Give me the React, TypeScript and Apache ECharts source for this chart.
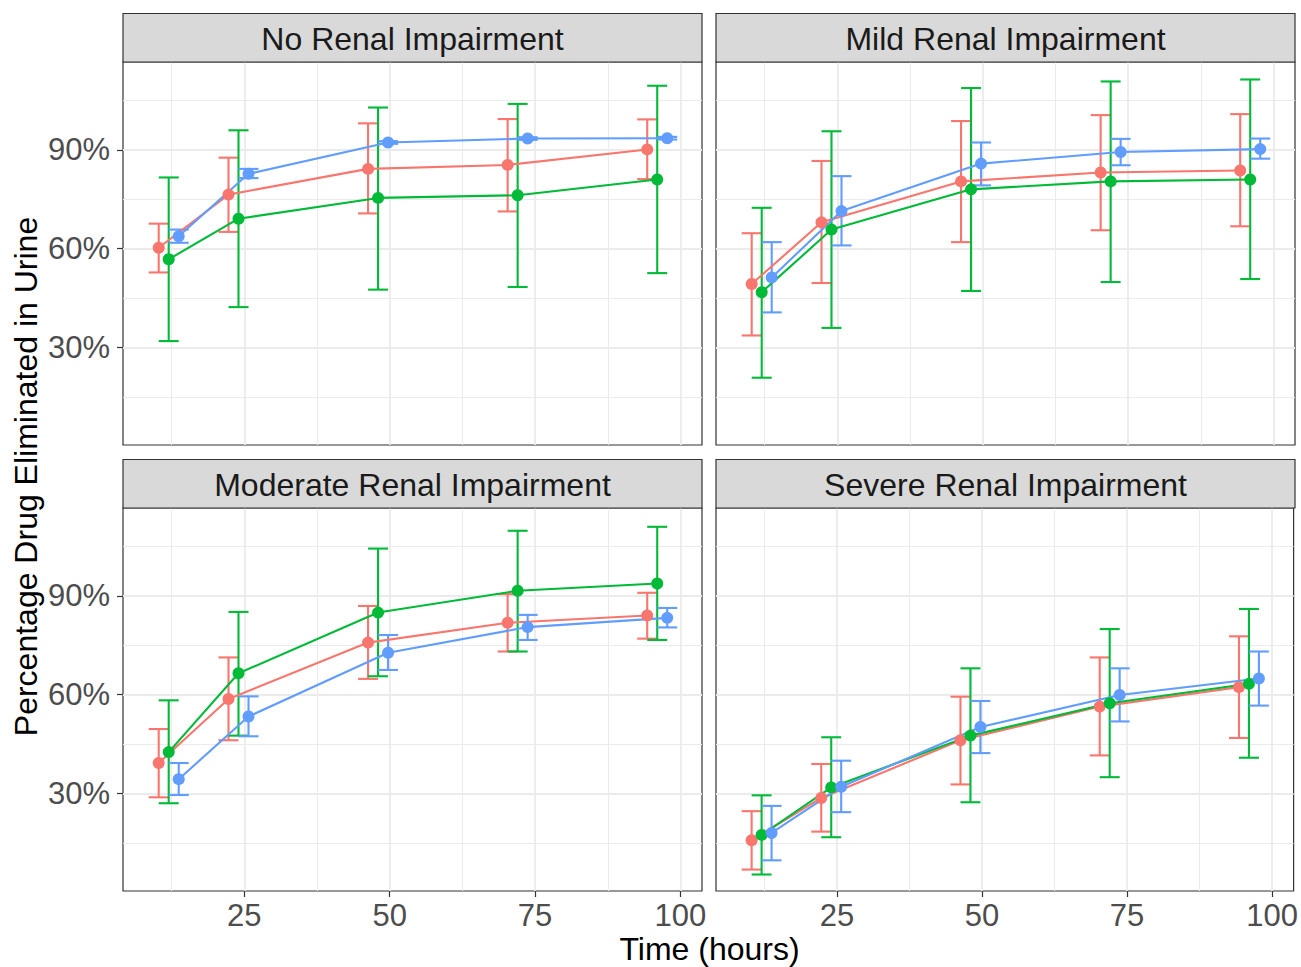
import React, { useEffect, useRef } from "react";
import * as echarts from "echarts";

// ---------- data ----------
const panelTitles = [
  "No Renal Impairment",
  "Mild Renal Impairment",
  "Moderate Renal Impairment",
  "Severe Renal Impairment",
];
const times = [12, 24, 48, 72, 96];
const xTickValues = [25, 50, 75, 100];
const xMinorValues = [12.5, 37.5, 62.5, 87.5];
const yTickValues = [30, 60, 90];
const yMinorValues = [15, 45, 75, 105];

// No renal impairment
const noRedMean = [60.3, 76.4, 84.2, 85.4, 90.1];
const noRedLow = [52.8, 65.1, 70.7, 71.3, 81.1];
const noRedHigh = [67.6, 87.6, 98.0, 99.3, 99.2];
const noGreenMean = [56.8, 69.1, 75.4, 76.2, 81.0];
const noGreenLow = [32.0, 42.3, 47.6, 48.4, 52.6];
const noGreenHigh = [81.6, 95.9, 102.8, 103.9, 109.4];
const noBlueMean = [63.8, 82.7, 92.2, 93.4, 93.5];
const noBlueLow = [61.8, 81.4, 91.8, 93.0, 93.1];
const noBlueHigh = [65.8, 84.2, 92.6, 93.8, 93.9];

// Mild renal impairment
const mildRedMean = [49.3, 68.0, 80.4, 83.1, 83.7];
const mildRedLow = [33.7, 49.6, 62.0, 65.6, 66.8];
const mildRedHigh = [64.7, 86.6, 98.7, 100.5, 100.8];
const mildGreenMean = [46.8, 65.8, 78.0, 80.4, 81.0];
const mildGreenLow = [20.9, 36.0, 47.2, 49.9, 50.8];
const mildGreenHigh = [72.4, 95.6, 108.7, 110.7, 111.3];
const mildBlueMean = [51.3, 71.4, 85.8, 89.3, 90.2];
const mildBlueLow = [40.7, 61.0, 79.2, 85.3, 87.3];
const mildBlueHigh = [62.0, 82.0, 92.2, 93.3, 93.4];

// Moderate renal impairment
const modRedMean = [39.3, 58.7, 75.8, 81.8, 84.0];
const modRedLow = [28.9, 46.2, 64.8, 73.1, 77.0];
const modRedHigh = [49.6, 71.3, 86.9, 90.5, 90.9];
const modGreenMean = [42.6, 66.5, 84.9, 91.5, 93.7];
const modGreenLow = [27.1, 47.6, 65.6, 73.1, 76.6];
const modGreenHigh = [58.3, 85.1, 104.3, 109.7, 110.9];
const modBlueMean = [34.4, 53.4, 72.7, 80.5, 83.3];
const modBlueLow = [29.6, 47.4, 67.5, 76.6, 80.4];
const modBlueHigh = [39.3, 59.5, 78.1, 84.2, 86.3];

// Severe renal impairment
const sevRedMean = [15.9, 28.7, 46.2, 56.4, 62.3];
const sevRedLow = [7.0, 18.5, 32.8, 41.6, 46.9];
const sevRedHigh = [24.7, 39.0, 59.4, 71.3, 77.7];
const sevGreenMean = [17.5, 31.9, 47.6, 57.4, 63.3];
const sevGreenLow = [5.5, 16.8, 27.4, 35.0, 40.9];
const sevGreenHigh = [29.5, 47.1, 68.0, 79.9, 86.0];
const sevBlueMean = [18.1, 32.1, 50.2, 59.9, 64.9];
const sevBlueLow = [9.8, 24.4, 42.3, 51.9, 56.7];
const sevBlueHigh = [26.3, 40.0, 58.1, 68.0, 73.1];

const panelData = [
  [
    [noRedMean, noRedLow, noRedHigh],
    [noGreenMean, noGreenLow, noGreenHigh],
    [noBlueMean, noBlueLow, noBlueHigh],
  ],
  [
    [mildRedMean, mildRedLow, mildRedHigh],
    [mildGreenMean, mildGreenLow, mildGreenHigh],
    [mildBlueMean, mildBlueLow, mildBlueHigh],
  ],
  [
    [modRedMean, modRedLow, modRedHigh],
    [modGreenMean, modGreenLow, modGreenHigh],
    [modBlueMean, modBlueLow, modBlueHigh],
  ],
  [
    [sevRedMean, sevRedLow, sevRedHigh],
    [sevGreenMean, sevGreenLow, sevGreenHigh],
    [sevBlueMean, sevBlueLow, sevBlueHigh],
  ],
];

// ---------- styling ----------
const groupColors = ["#F8766D", "#00BA38", "#619CFF"];
const DODGE = 1.72; // position dodge offset (x units)
const CAP = 1.72; // errorbar half cap width (x units)
const FONT = "'Liberation Sans', Arial, Helvetica, sans-serif";
const X_MIN = 4.14;
const X_MAX = 103.7;
const Y_MIN = 0.5;
const Y_MAX = 116.6;

const gridBoxes = [
  { left: 123, top: 62 },
  { left: 716, top: 62 },
  { left: 123, top: 508 },
  { left: 716, top: 508 },
];
const GRID_W = 579;
const GRID_H = 383;
const STRIP_H = 48.5;

export default function App() {
  const ref = useRef<HTMLDivElement>(null);

  useEffect(() => {
    if (!ref.current) return;
    const chart = echarts.init(ref.current, undefined, { renderer: "svg" });

    const grids: any[] = [];
    const xAxes: any[] = [];
    const yAxes: any[] = [];
    const series: any[] = [];
    const graphics: any[] = [];

    gridBoxes.forEach((g, p) => {
      const isBottom = p >= 2;
      const isLeft = p % 2 === 0;
      grids.push({
        left: g.left,
        top: g.top,
        width: GRID_W,
        height: GRID_H,
        show: true,
        backgroundColor: "#FFFFFF",
        borderColor: "#333333",
        borderWidth: 1.2,
        containLabel: false,
      });
      // main x axis
      xAxes.push({
        type: "value",
        gridIndex: p,
        min: X_MIN,
        max: X_MAX,
        position: "bottom",
        axisLine: { show: false },
        axisTick: {
          show: isBottom,
          customValues: xTickValues,
          length: 6,
          lineStyle: { color: "#333333", width: 1.2 },
        },
        axisLabel: {
          show: isBottom,
          customValues: xTickValues,
          margin: 9,
          fontSize: 31,
          color: "#4D4D4D",
          fontFamily: FONT,
          formatter: (v: number) => String(v),
        },
        splitLine: { show: true, lineStyle: { color: "#EBEBEB", width: 1.8 } },
      });
      // minor x axis (gridlines only)
      xAxes.push({
        type: "value",
        gridIndex: p,
        min: X_MIN,
        max: X_MAX,
        position: "top",
        axisLine: { show: false },
        axisTick: { show: false, customValues: xMinorValues },
        axisLabel: { show: false, customValues: xMinorValues },
        splitLine: { show: true, lineStyle: { color: "#EBEBEB", width: 1 } },
      });
      // main y axis
      yAxes.push({
        type: "value",
        gridIndex: p,
        min: Y_MIN,
        max: Y_MAX,
        position: "left",
        axisLine: { show: false },
        axisTick: {
          show: isLeft,
          customValues: yTickValues,
          length: 6,
          lineStyle: { color: "#333333", width: 1.2 },
        },
        axisLabel: {
          show: isLeft,
          customValues: yTickValues,
          margin: 13,
          fontSize: 31,
          color: "#4D4D4D",
          fontFamily: FONT,
          formatter: (v: number) => `${v}%`,
        },
        splitLine: { show: true, lineStyle: { color: "#EBEBEB", width: 1.8 } },
      });
      // minor y axis
      yAxes.push({
        type: "value",
        gridIndex: p,
        min: Y_MIN,
        max: Y_MAX,
        position: "right",
        axisLine: { show: false },
        axisTick: { show: false, customValues: yMinorValues },
        axisLabel: { show: false, customValues: yMinorValues },
        splitLine: { show: true, lineStyle: { color: "#EBEBEB", width: 1 } },
      });

      const xi = 2 * p;
      const yi = 2 * p;
      panelData[p].forEach((grp, gIdx) => {
        const [mean, low, high] = grp;
        const off = (gIdx - 1) * DODGE;
        const color = groupColors[gIdx];
        // error bars
        series.push({
          type: "custom",
          xAxisIndex: xi,
          yAxisIndex: yi,
          z: 2,
          silent: true,
          encode: { x: 0, y: [1, 2] },
          data: times.map((t, i) => [t + off, low[i], high[i]]),
          renderItem: (params: any, api: any) => {
            const x = api.value(0);
            const lo = api.value(1);
            const hi = api.value(2);
            const pLo = api.coord([x, lo]);
            const pHi = api.coord([x, hi]);
            const cl = api.coord([x - CAP, hi])[0];
            const cr = api.coord([x + CAP, hi])[0];
            const style = { stroke: color, lineWidth: 2.1, fill: null };
            return {
              type: "group",
              children: [
                { type: "line", shape: { x1: pLo[0], y1: pLo[1], x2: pHi[0], y2: pHi[1] }, style },
                { type: "line", shape: { x1: cl, y1: pHi[1], x2: cr, y2: pHi[1] }, style },
                { type: "line", shape: { x1: cl, y1: pLo[1], x2: cr, y2: pLo[1] }, style },
              ],
            };
          },
        });
        // lines
        series.push({
          type: "line",
          xAxisIndex: xi,
          yAxisIndex: yi,
          z: 3,
          silent: true,
          showSymbol: false,
          lineStyle: { color, width: 2.1 },
          itemStyle: { color },
          data: times.map((t, i) => [t + off, mean[i]]),
        });
        // points
        series.push({
          type: "scatter",
          xAxisIndex: xi,
          yAxisIndex: yi,
          z: 4,
          silent: true,
          symbol: "circle",
          symbolSize: 12,
          itemStyle: { color, opacity: 1 },
          data: times.map((t, i) => [t + off, mean[i]]),
        });
      });

      // facet strip
      graphics.push({
        type: "rect",
        shape: { x: g.left, y: g.top - STRIP_H, width: GRID_W, height: STRIP_H },
        style: { fill: "#D9D9D9", stroke: "#333333", lineWidth: 1.2 },
        z: 10,
      });
      graphics.push({
        type: "text",
        x: g.left + GRID_W / 2,
        y: g.top - STRIP_H / 2 + 1,
        style: {
          text: panelTitles[p],
          fontSize: 32,
          fontFamily: FONT,
          fill: "#1A1A1A",
          align: "center",
          verticalAlign: "middle",
        },
        z: 11,
      });
    });

    graphics.push({
      type: "text",
      x: 709.5,
      y: 949,
      style: {
        text: "Time (hours)",
        fontSize: 32,
        fontFamily: FONT,
        fill: "#000000",
        align: "center",
        verticalAlign: "middle",
      },
    });
    graphics.push({
      type: "text",
      x: 26,
      y: 476.5,
      rotation: Math.PI / 2,
      style: {
        text: "Percentage Drug Eliminated in Urine",
        fontSize: 32,
        fontFamily: FONT,
        fill: "#000000",
        align: "center",
        verticalAlign: "middle",
      },
    });

    chart.setOption({
      animation: false,
      backgroundColor: "#FFFFFF",
      textStyle: { fontFamily: FONT },
      grid: grids,
      xAxis: xAxes,
      yAxis: yAxes,
      series,
      graphic: graphics,
    });

    return () => {
      chart.dispose();
    };
  }, []);

  return (
    <div
      ref={ref}
      style={{ position: "absolute", left: 0, top: 0, width: 1301, height: 967 }}
    />
  );
}
